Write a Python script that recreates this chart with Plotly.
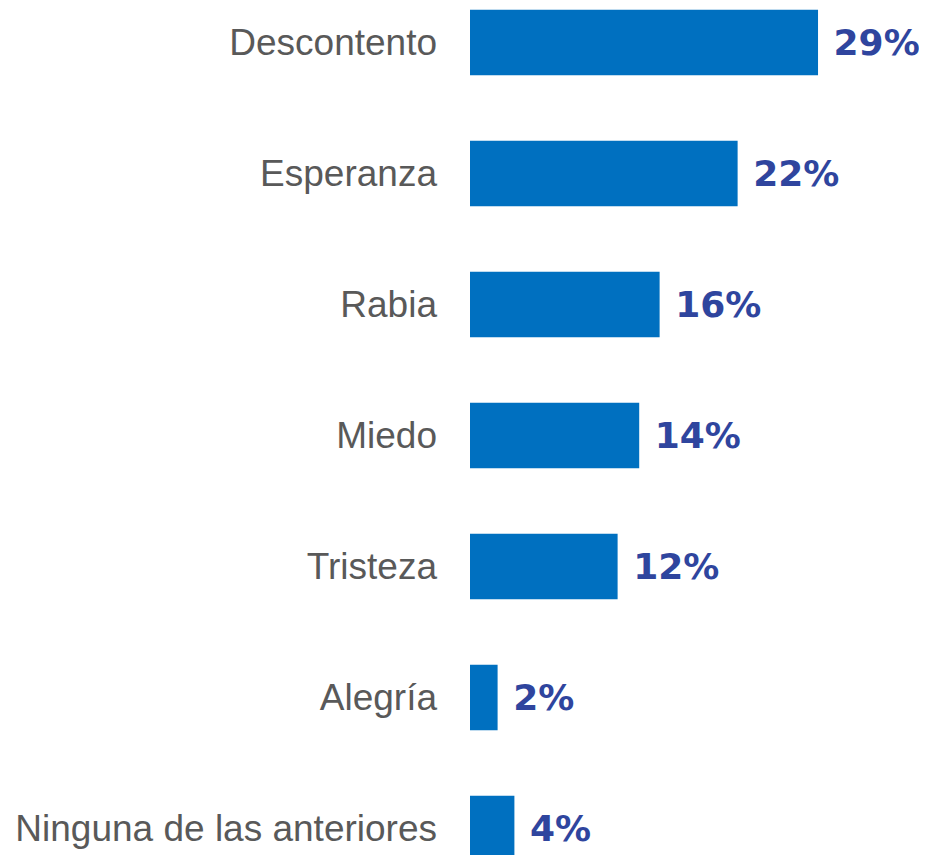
import plotly.graph_objects as go

categories = ["Descontento", "Esperanza", "Rabia", "Miedo", "Tristeza", "Alegría", "Ninguna de las anteriores"]
values = [29.0, 22.3, 15.8, 14.1, 12.3, 2.3, 3.7]
labels = ["29%", "22%", "16%", "14%", "12%", "2%", "4%"]

fig = go.Figure(go.Bar(
    x=values,
    y=categories,
    orientation="h",
    marker=dict(color="#0070C0", line=dict(width=0)),
    width=0.5,
    text=[" " + t for t in labels],
    textposition="outside",
    constraintext="none",
    cliponaxis=False,
    textfont=dict(family="DejaVu Sans", size=36, color="#2F459E", weight="bold"),
    hoverinfo="skip",
))

fig.update_layout(
    width=919, height=847,
    margin=dict(l=462, r=0, t=0, b=0),
    paper_bgcolor="white", plot_bgcolor="white",
    showlegend=False,
    xaxis=dict(range=[0, 38.08], visible=False, showgrid=False, zeroline=False),
    yaxis=dict(
        type="category",
        categoryorder="array", categoryarray=categories,
        range=[6.2023, -0.2634],
        showgrid=False, zeroline=False, showline=False,
        ticks="", ticklabelstandoff=32, automargin=False,
        tickfont=dict(family="Liberation Sans, Arial", size=37, color="#595959"),
    ),
)

fig.write_html("out.html")
